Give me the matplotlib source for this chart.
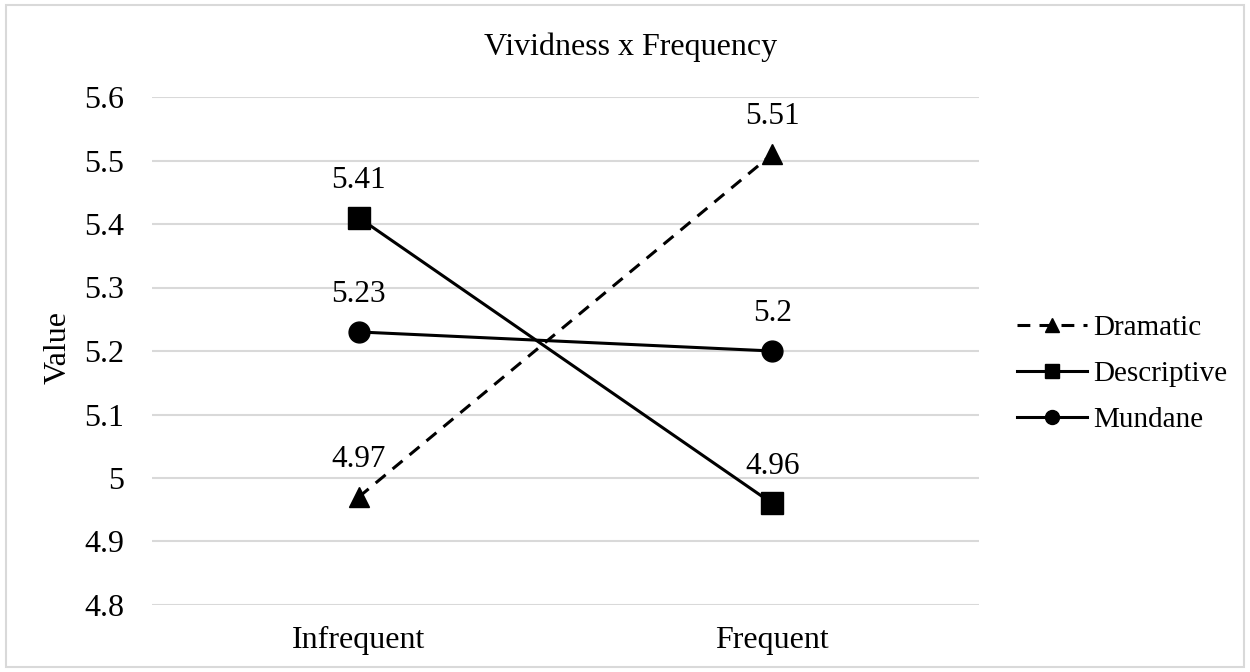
import matplotlib
matplotlib.use("Agg")
import matplotlib.pyplot as plt
from matplotlib.patches import Rectangle

plt.rcParams['font.family'] = ['Liberation Serif', 'DejaVu Serif']

# ── Data ─────────────────────────────────────────────
categories = ['Infrequent', 'Frequent']
dramatic = [4.97, 5.51]
descriptive = [5.41, 4.96]
mundane = [5.23, 5.20]
y_ticks = [4.8, 4.9, 5.0, 5.1, 5.2, 5.3, 5.4, 5.5, 5.6]
y_tick_labels = ['4.8', '4.9', '5', '5.1', '5.2', '5.3', '5.4', '5.5', '5.6']

W, H = 1250, 672
fig = plt.figure(figsize=(W / 100, H / 100), dpi=100)

# plot area in pixel units
left, right, top, bottom = 152, 979, 97, 605
ax = fig.add_axes([left / W, 1 - bottom / H, (right - left) / W, (bottom - top) / H])

FS = 23
x = [0, 1]
lw = 2.2
ax.plot(x, dramatic, color='black', lw=lw, ls=(0, (4.2, 3.0)), marker='^',
        markersize=14.5, label='Dramatic', zorder=3)
ax.plot(x, descriptive, color='black', lw=lw, marker='s',
        markersize=16, label='Descriptive', zorder=3)
ax.plot(x, mundane, color='black', lw=lw, marker='o',
        markersize=15, label='Mundane', zorder=3)

# value labels above each point
for series in (dramatic, descriptive, mundane):
    for xi, v in zip(x, series):
        ax.annotate(f'{v:g}', xy=(xi, v), xytext=(0, 21.5), textcoords='offset points',
                    ha='center', va='baseline', fontsize=22.5)

ax.set_xlim(-0.5, 1.5)
ax.set_ylim(4.8, 5.6)
ax.set_xticks(x)
ax.set_xticklabels(categories, fontsize=FS)
ax.set_yticks(y_ticks)
ax.set_yticklabels(y_tick_labels, fontsize=FS)
ax.tick_params(length=0, pad=20)
ax.tick_params(axis='x', pad=15)
for s in ax.spines.values():
    s.set_visible(False)
ax.yaxis.grid(True, color='#d9d9d9', lw=1.5)
ax.set_axisbelow(True)

fig.text(58 / W, 1 - 347 / H, 'Value', rotation=90, ha='center', va='center',
         fontsize=FS)
fig.text(631 / W, 1 - 55 / H, 'Vividness x Frequency',
         ha='center', va='baseline', fontsize=FS)

leg = ax.legend(loc='center left', bbox_to_anchor=(991 / W, 1 - 374 / H),
                bbox_transform=fig.transFigure, frameon=False, fontsize=21,
                handlelength=2.4, handletextpad=0.2, labelspacing=0.67,
                markerscale=0.67)

# light outer border
fig.add_artist(Rectangle((6 / W, 5 / H), 1 - 12 / W, 1 - 10 / H,
                         transform=fig.transFigure, fill=False,
                         edgecolor='#d9d9d9', lw=1.5))

fig.savefig('out.png', dpi=100)
